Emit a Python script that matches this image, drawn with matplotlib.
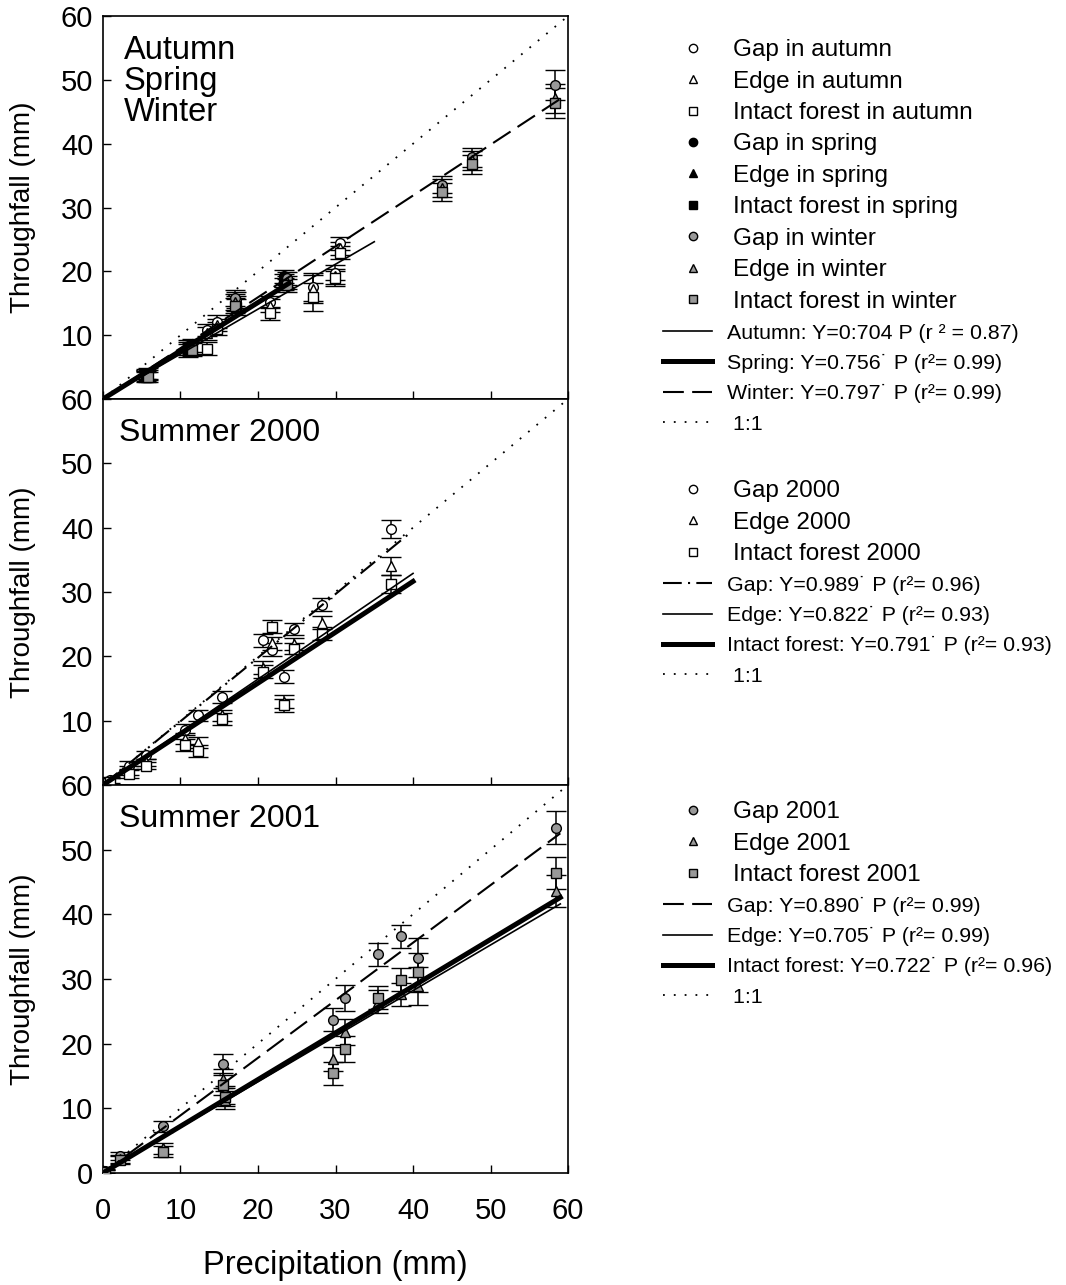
import numpy as np
import matplotlib
matplotlib.use("Agg")
import matplotlib.pyplot as plt
from matplotlib.lines import Line2D

plt.rcParams['font.family'] = ['Liberation Sans', 'DejaVu Sans']

# ---- top panel: autumn / spring / winter ----
autumn_p = [13.4, 14.7, 17.2, 21.5, 27.1, 29.9, 30.6]
autumn_gap = [10.8, 12.1, 15.5, 15.2, 17.5, 19.8, 24.4]
autumn_edge = [10.3, 11.6, 15.0, 14.6, 17.3, 19.2, 23.6]
autumn_intact = [7.9, 11.0, 14.4, 13.4, 16.0, 18.9, 22.9]
autumn_err = [1.0, 1.0, 1.2, 1.0, 2.2, 1.2, 1.0]

spring_p = [5.5, 11.0, 23.3]
spring_gap = [3.9, 8.3, 19.2]
spring_edge = [3.6, 7.9, 18.6]
spring_intact = [3.4, 7.6, 18.0]
spring_err = [0.8, 1.0, 1.0]

winter_p = [5.8, 11.5, 17.0, 23.8, 43.7, 47.6, 58.3]
winter_gap = [4.0, 8.4, 15.8, 18.9, 33.6, 37.9, 49.2]
winter_edge = [3.7, 8.0, 15.2, 18.3, 33.0, 37.4, 47.1]
winter_intact = [3.5, 7.7, 14.6, 17.8, 32.4, 36.8, 46.4]
winter_err = [0.8, 1.0, 1.2, 1.0, 1.4, 1.5, 2.3]

# ---- summer 2000 ----
s00_p = [0.9, 3.3, 5.6, 10.6, 12.3, 15.3, 20.7, 21.8, 23.3, 24.6, 28.2, 37.2]
s00_gap = [0.8, 3.0, 4.6, 8.6, 10.8, 13.7, 22.5, 21.0, 16.8, 24.2, 28.0, 39.8]
s00_edge = [0.6, 2.2, 3.5, 7.2, 6.6, 10.8, 18.2, 22.0, 12.9, 21.9, 25.2, 34.0]
s00_intact = [0.5, 1.7, 3.0, 6.2, 5.3, 10.2, 17.6, 24.6, 12.4, 21.2, 23.5, 31.3]
s00_err = [0.5, 0.7, 0.6, 0.9, 0.9, 0.9, 1.0, 1.0, 1.0, 0.9, 1.0, 1.4]

# ---- summer 2001 ----
s01_p = [0.3, 2.2, 7.8, 15.5, 15.8, 29.7, 31.2, 35.5, 38.5, 40.7, 58.5]
s01_gap = [0.3, 2.6, 7.2, 16.9, 12.0, 23.7, 27.1, 33.8, 36.6, 33.3, 53.4]
s01_edge = [0.2, 2.2, 3.8, 14.6, 11.3, 17.6, 21.8, 26.5, 27.6, 28.9, 43.6]
s01_intact = [0.2, 2.0, 3.3, 13.6, 11.8, 15.4, 19.1, 27.1, 29.9, 31.0, 46.4]
s01_err = [0.3, 0.6, 0.9, 1.5, 1.4, 1.8, 2.0, 1.8, 1.8, 3.0, 2.5]

# regression slopes and the precipitation range each line covers
top_slopes = [0.704, 0.756, 0.797]
top_ends = [35, 24, 59]
s00_slopes = [0.989, 0.822, 0.791]
s00_ends = [39.5, 40, 40]
s01_slopes = [0.890, 0.705, 0.722]
s01_ends = [59, 59, 59]

ticks = [0, 10, 20, 30, 40, 50, 60]

OPEN, BLACK, GREY = 'white', 'black', '0.6'


def points(ax, p, ys, err, face):
    for y, m in zip(ys, ['o', '^', 's']):
        ax.errorbar(p, y, yerr=err, fmt=m, ms=7, mfc=face, mec='black',
                    mew=1.0, ecolor='black', elinewidth=1.1, capsize=7,
                    capthick=1.6, zorder=3)


def line(ax, slope, end, style):
    x = np.array([0, end])
    ax.plot(x, slope * x, color='black', zorder=4, **style)


thin = dict(lw=1.2)
thick = dict(lw=3.6)
dash = dict(lw=1.5, dashes=(10, 4))
dashdot = dict(lw=1.5, dashes=(9, 3, 1, 3))
dots = dict(lw=1.3, dashes=(1, 5))

fig = plt.figure(figsize=(10.66, 12.85), dpi=100)
L, W = 0.0966, 0.4363
ax1 = fig.add_axes([L, 0.6895, W, 0.298])
ax2 = fig.add_axes([L, 0.3892, W, 0.3003])
ax3 = fig.add_axes([L, 0.0872, W, 0.302])

for ax in (ax1, ax2, ax3):
    ax.set_xlim(0, 60)
    ax.set_ylim(0, 60)
    ax.set_xticks(ticks)
    ax.set_yticks(ticks)
    ax.tick_params(direction='in', length=6, width=1, labelsize=21)
    ax.tick_params(axis='y', pad=7)
    ax.tick_params(axis='x', pad=17)
    ax.set_ylabel('Throughfall (mm)', fontsize=20, labelpad=18)
    ax.plot([0, 60], [0, 60], color='black', zorder=2, **dots)
    for s in ax.spines.values():
        s.set_linewidth(1.2)
for ax in (ax1, ax2):
    ax.set_xticklabels([])
    ax.set_yticklabels([''] + [str(t) for t in ticks[1:]])
ax3.set_xlabel('Precipitation (mm)', fontsize=23.5, labelpad=18)

# top panel
points(ax1, autumn_p, [autumn_gap, autumn_edge, autumn_intact], autumn_err, OPEN)
points(ax1, spring_p, [spring_gap, spring_edge, spring_intact], spring_err, BLACK)
points(ax1, winter_p, [winter_gap, winter_edge, winter_intact], winter_err, GREY)
for sl, e, st in zip(top_slopes, top_ends, [thin, thick, dash]):
    line(ax1, sl, e, st)
ax1.text(0.045, 0.95, 'Autumn\nSpring\nWinter', transform=ax1.transAxes,
         fontsize=23.5, va='top', linespacing=1.0)

# summer 2000
points(ax2, s00_p, [s00_gap, s00_edge, s00_intact], s00_err, OPEN)
for sl, e, st in zip(s00_slopes, s00_ends, [dashdot, thin, thick]):
    line(ax2, sl, e, st)
ax2.text(0.035, 0.95, 'Summer 2000', transform=ax2.transAxes,
         fontsize=23, va='top')

# summer 2001
points(ax3, s01_p, [s01_gap, s01_edge, s01_intact], s01_err, GREY)
for sl, e, st in zip(s01_slopes, s01_ends, [dash, thin, thick]):
    line(ax3, sl, e, st)
ax3.text(0.035, 0.95, 'Summer 2001', transform=ax3.transAxes,
         fontsize=23, va='top')


def mk(m, face):
    return Line2D([], [], ls='none', marker=m, ms=6, mfc=face, mec='black', mew=1.0)


def ln(style):
    return Line2D([], [], color='black', **style)


def legends(ax, mh, ml, lh, ll, ytop, ytop2):
    leg = ax.legend(mh, ml, loc='upper left', bbox_to_anchor=(0.622, ytop),
                    bbox_transform=fig.transFigure, frameon=False, fontsize=17.5,
                    handlelength=2.47, handletextpad=0.41, labelspacing=0.387,
                    borderpad=0, borderaxespad=0)
    ax.add_artist(leg)
    ax.legend(lh, ll, loc='upper left', bbox_to_anchor=(0.622, ytop2),
              bbox_transform=fig.transFigure, frameon=False, fontsize=15.4,
              handlelength=2.3, handletextpad=0.7, labelspacing=0.53,
              borderpad=0, borderaxespad=0)


top_marks = [mk('o', OPEN), mk('^', OPEN), mk('s', OPEN),
             mk('o', BLACK), mk('^', BLACK), mk('s', BLACK),
             mk('o', GREY), mk('^', GREY), mk('s', GREY)]
top_mlabels = ['Gap in autumn', 'Edge in autumn', 'Intact forest in autumn',
               'Gap in spring', 'Edge in spring', 'Intact forest in spring',
               'Gap in winter', 'Edge in winter', 'Intact forest in winter']
top_lines = [ln(thin), ln(thick), ln(dash), ln(dots)]
top_llabels = ['Autumn: Y=0:704 P (r \u00b2 = 0.87)',
               'Spring: Y=0.756\u02d9 P (r\u00b2= 0.99)',
               'Winter: Y=0.797\u02d9 P (r\u00b2= 0.99)',
               ' 1:1']
legends(ax1, top_marks, top_mlabels, top_lines, top_llabels, 0.9695, 0.7482)

legends(ax2, [mk('o', OPEN), mk('^', OPEN), mk('s', OPEN)],
        ['Gap 2000', 'Edge 2000', 'Intact forest 2000'],
        [ln(dashdot), ln(thin), ln(thick), ln(dots)],
        ['Gap: Y=0.989\u02d9 P (r\u00b2= 0.96)',
         'Edge: Y=0.822\u02d9 P (r\u00b2= 0.93)',
         'Intact forest: Y=0.791\u02d9 P (r\u00b2= 0.93)',
         ' 1:1'], 0.6263, 0.5521)

legends(ax3, [mk('o', GREY), mk('^', GREY), mk('s', GREY)],
        ['Gap 2001', 'Edge 2001', 'Intact forest 2001'],
        [ln(dash), ln(thin), ln(thick), ln(dots)],
        ['Gap: Y=0.890\u02d9 P (r\u00b2= 0.99)',
         'Edge: Y=0.705\u02d9 P (r\u00b2= 0.99)',
         'Intact forest: Y=0.722\u02d9 P (r\u00b2= 0.96)',
         ' 1:1'], 0.3765, 0.3023)

fig.savefig('out.png', dpi=100)
